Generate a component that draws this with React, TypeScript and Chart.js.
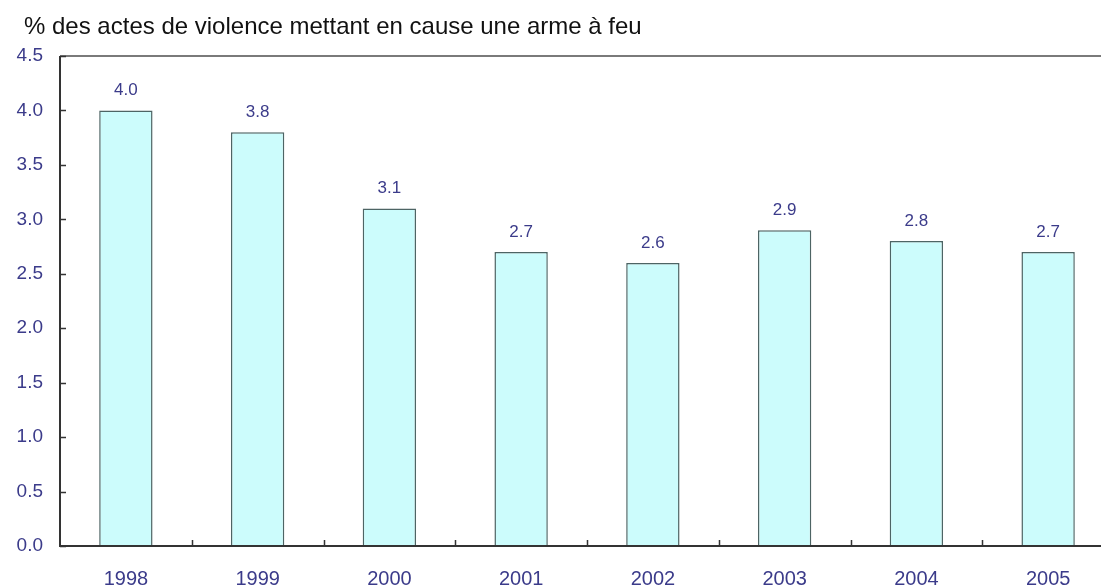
import React, { useEffect, useRef } from "react";
import { Chart, registerables } from "chart.js";

Chart.register(...registerables);

const title = "% des actes de violence mettant en cause une arme à feu";
const years = ["1998", "1999", "2000", "2001", "2002", "2003", "2004", "2005"];
const values = [4.0, 3.8, 3.1, 2.7, 2.6, 2.9, 2.8, 2.7];
const yMin = 0;
const yMax = 4.5;
const yStep = 0.5;

const FONT = "'Liberation Sans', Arial, sans-serif";
const BLUE = "#3b3b8a";

const decorPlugin = {
  id: "decor",
  afterDatasetsDraw(chart: any) {
    const { ctx, chartArea, scales } = chart;
    const x = scales.x;
    const y = scales.y;
    ctx.save();
    // title
    ctx.fillStyle = "#111111";
    ctx.font = `24px ${FONT}`;
    ctx.textAlign = "left";
    ctx.textBaseline = "middle";
    ctx.fillText(title, 24, 27);
    // top border
    ctx.strokeStyle = "#7a7a7a";
    ctx.lineWidth = 2;
    ctx.beginPath();
    ctx.moveTo(chartArea.left, chartArea.top);
    ctx.lineTo(chartArea.right, chartArea.top);
    ctx.stroke();
    // axes
    ctx.strokeStyle = "#333333";
    ctx.lineWidth = 2;
    ctx.beginPath();
    ctx.moveTo(chartArea.left, chartArea.top);
    ctx.lineTo(chartArea.left, chartArea.bottom);
    ctx.lineTo(chartArea.right, chartArea.bottom);
    ctx.stroke();
    // inside ticks
    ctx.lineWidth = 1.5;
    ctx.beginPath();
    for (let v = yMin; v <= yMax + 1e-9; v += yStep) {
      const py = Math.round(y.getPixelForValue(v)) + 0.5;
      ctx.moveTo(chartArea.left, py);
      ctx.lineTo(chartArea.left + 6, py);
    }
    for (let i = 1; i < years.length; i++) {
      const px = Math.round((x.getPixelForValue(i - 1) + x.getPixelForValue(i)) / 2) + 0.5;
      ctx.moveTo(px, chartArea.bottom);
      ctx.lineTo(px, chartArea.bottom - 6);
    }
    ctx.stroke();
    // value labels
    const meta = chart.getDatasetMeta(0);
    ctx.fillStyle = BLUE;
    ctx.font = `17px ${FONT}`;
    ctx.textAlign = "center";
    ctx.textBaseline = "middle";
    meta.data.forEach((bar: any, i: number) => {
      ctx.fillText(values[i].toFixed(1), bar.x, bar.y - 20);
    });
    ctx.restore();
  },
};

export default function App() {
  const ref = useRef<HTMLCanvasElement>(null);
  useEffect(() => {
    if (!ref.current) return;
    const chart = new Chart(ref.current, {
      type: "bar",
      data: {
        labels: years,
        datasets: [
          {
            data: values,
            backgroundColor: "#ccfcfc",
            borderColor: "#4d6464",
            borderWidth: 1.5,
            barPercentage: 0.405,
            categoryPercentage: 1,
          },
        ],
      },
      options: {
        responsive: false,
        animation: false,
        layout: { padding: { left: 0, right: 0, top: 56, bottom: 0 } },
        plugins: {
          legend: { display: false },
          tooltip: { enabled: false },
          title: { display: false },
        },
        scales: {
          x: {
            grid: { display: false, drawTicks: false },
            border: { display: false },
            ticks: {
              color: BLUE,
              font: { family: FONT, size: 20 },
              padding: 21,
              maxRotation: 0,
            },
            afterFit: (s: any) => {
              s.height = 42;
            },
          },
          y: {
            min: yMin,
            max: yMax,
            grid: { display: false, drawTicks: false },
            border: { display: false },
            ticks: {
              stepSize: yStep,
              color: BLUE,
              font: { family: FONT, size: 19 },
              padding: 17,
              callback: (v: any) => Number(v).toFixed(1),
            },
            afterFit: (s: any) => {
              s.width = 60;
            },
          },
        },
      },
      plugins: [decorPlugin],
    });
    return () => chart.destroy();
  }, []);
  return (
    <div style={{ position: "fixed", left: 0, top: 0, width: 1101, height: 588, overflow: "hidden", background: "#ffffff" }}>
      <canvas ref={ref} width={1114} height={588} style={{ display: "block" }} />
    </div>
  );
}
